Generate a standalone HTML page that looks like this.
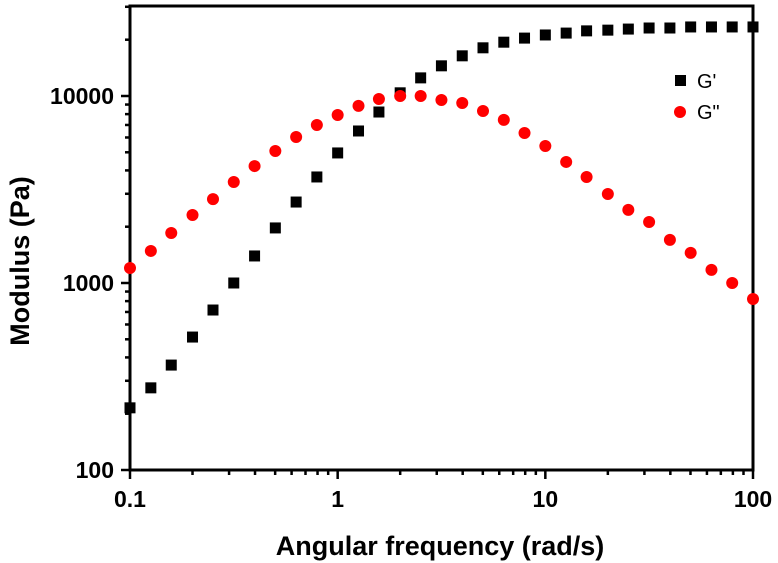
<!DOCTYPE html>
<html><head><meta charset="utf-8"><style>
body{margin:0;background:#fff;}
svg{display:block;font-family:"Liberation Sans",Arial,sans-serif;font-weight:bold;}
</style></head><body>
<svg id="chart" width="778" height="563" viewBox="0 0 778 563" xmlns="http://www.w3.org/2000/svg"></svg>
<script>
const freqs=[0.1,0.126,0.158,0.2,0.251,0.316,0.398,0.501,0.631,0.794,1,1.26,1.58,2,2.51,3.16,3.98,5.01,6.31,7.94,10,12.6,15.8,20,25.1,31.6,39.8,50.1,63.1,79.4,100];
const gPrime=[215,275,364,514,717,1000,1395,1970,2710,3690,4960,6500,8210,10400,12500,14500,16400,18100,19400,20400,21200,21700,22300,22500,22800,23100,23100,23400,23400,23400,23400];
const gDouble=[1203,1484,1850,2310,2810,3470,4220,5080,6040,7000,7910,8850,9640,10000,10000,9520,9180,8310,7450,6340,5400,4440,3690,2990,2460,2120,1700,1450,1175,1000,821];
const xTickLabels=["0.1","1","10","100"];
const xTickVals=[0.1,1,10,100];
const yTickLabels=["100","1000","10000"];
const yTickVals=[100,1000,10000];

const L=130,R=753,T=6,B=470;
const xS=v=>L+(Math.log10(v)+1)*(R-L)/3;
const yS=v=>B-(Math.log10(v)-2)*187;
const svg=document.getElementById('chart');
const NS="http://www.w3.org/2000/svg";
function mk(tag,attrs,parent){const e=document.createElementNS(NS,tag);for(const k in attrs)e.setAttribute(k,attrs[k]);(parent||svg).appendChild(e);return e;}

const frame=mk('rect',{x:L,y:T,width:R-L,height:B-T,fill:'none',stroke:'#000','stroke-width':3});



for(let d=-1;d<2;d++){for(let m=2;m<10;m++){const x=xS(m*Math.pow(10,d));mk('line',{x1:x,x2:x,y1:B,y2:B+5,stroke:'#000','stroke-width':2.5});}}
xTickVals.forEach((v,i)=>{const x=xS(v);mk('line',{x1:x,x2:x,y1:B,y2:B+9,stroke:'#000','stroke-width':2.5});
const t=mk('text',{x:x,y:B+37,'text-anchor':'middle','font-size':23});t.textContent=xTickLabels[i];

});
for(let d=2;d<5;d++){for(let m=2;m<10;m++){const v=m*Math.pow(10,d);if(yS(v)<T)continue;const y=yS(v);mk('line',{x1:L-5,x2:L,y1:y,y2:y,stroke:'#000','stroke-width':2.5});}}
yTickVals.forEach((v,i)=>{const y=yS(v);mk('line',{x1:L-9,x2:L,y1:y,y2:y,stroke:'#000','stroke-width':2.5});
const t=mk('text',{x:L-16,y:y+8,'text-anchor':'end','font-size':23});t.textContent=yTickLabels[i];

});

const xt=mk('text',{x:440,y:555,'text-anchor':'middle','font-size':27});xt.textContent='Angular frequency (rad/s)';


const yt=mk('text',{x:0,y:0,'text-anchor':'middle','font-size':27,transform:'translate(29,261) rotate(-90)'});yt.textContent='Modulus (Pa)';



const clip=mk('clipPath',{id:'c'});mk('rect',{x:L-8,y:T,width:R-L+16,height:B-T},clip);
const g=mk('g',{'clip-path':'url(#c)'});
freqs.forEach((f,i)=>{
 const s=mk('rect',{x:xS(f)-5.5,y:yS(gPrime[i])-5.5,width:11,height:11,fill:'#000'},g);
 
 
 const c=mk('circle',{cx:xS(f),cy:yS(gDouble[i]),r:6,fill:'#ff0000'},g);
 
 
});

const lg=mk('g',{});


mk('rect',{x:675,y:75,width:11,height:11,fill:'#000'},lg);
const l1=mk('text',{x:697,y:88,'font-size':20,'font-weight':'normal'},lg);l1.textContent="G'";
mk('circle',{cx:680,cy:112,r:6,fill:'#ff0000'},lg);
const l2=mk('text',{x:697,y:119,'font-size':20,'font-weight':'normal'},lg);l2.textContent='G"';
</script>
</body></html>
